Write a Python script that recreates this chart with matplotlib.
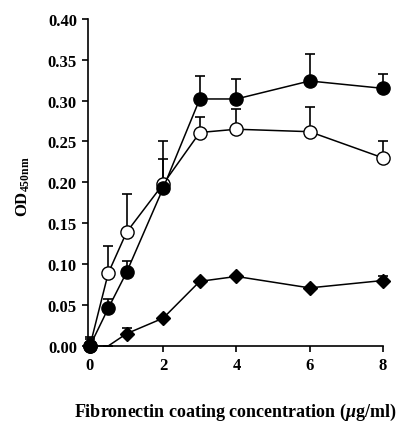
import matplotlib
matplotlib.use("Agg")
import matplotlib.pyplot as plt
import numpy as np

conc = [0, 0.5, 1, 2, 3, 4, 6, 8]

filled_vals = [0.000, 0.046, 0.090, 0.193, 0.302, 0.302, 0.324, 0.315]
filled_top  = [0.011, 0.058, 0.104, 0.228, 0.330, 0.327, 0.357, 0.333]

open_vals = [0.000, 0.089, 0.139, 0.198, 0.261, 0.265, 0.262, 0.230]
open_top  = [0.008, 0.122, 0.186, 0.250, 0.280, 0.290, 0.292, 0.250]

diam_vals = [0.000, 0.000, 0.015, 0.034, 0.079, 0.085, 0.071, 0.080]
diam_top  = [0.000, 0.000, 0.022, 0.034, 0.079, 0.085, 0.071, 0.085]

yticks = [0.00, 0.05, 0.10, 0.15, 0.20, 0.25, 0.30, 0.35, 0.40]
xticks = [0, 2, 4, 6, 8]

plt.rcParams['font.family'] = ['Liberation Serif', 'DejaVu Serif']
plt.rcParams['font.weight'] = 'bold'
plt.rcParams['mathtext.fontset'] = 'custom'
plt.rcParams['mathtext.rm'] = 'Liberation Serif:bold'
plt.rcParams['mathtext.it'] = 'Liberation Serif:italic:bold'
plt.rcParams['mathtext.bf'] = 'Liberation Serif:bold'

fig = plt.figure(figsize=(4.06, 4.31), dpi=100)
ax = fig.add_axes([0.217, 0.195, 0.726, 0.759])

def series(vals, top, marker, face, ms, skip=None):
    v = np.array(vals); t = np.array(top)
    up = t - v
    ax.errorbar(conc, v, yerr=[np.zeros_like(up), up], fmt='none', ecolor='black',
                elinewidth=1.2, capsize=3.5, capthick=1.2, zorder=2, clip_on=False)
    idx = [i for i in range(len(conc)) if skip is None or i not in skip]
    ax.plot(conc, v, color='black', lw=1.1, marker=marker, markersize=ms,
            markerfacecolor=face, markeredgecolor='black', markeredgewidth=1.0,
            markevery=idx, zorder=3, clip_on=False)

series(diam_vals, diam_top, 'D', 'black', 7.5, skip=[1])
series(open_vals, open_top, 'o', 'white', 9.5)
series(filled_vals, filled_top, 'o', 'black', 9.5)

ax.set_xlim(-0.05, 8)
ax.set_ylim(0, 0.40)
ax.set_xticks(xticks)
ax.set_xticklabels([str(x) for x in xticks])
ax.set_yticks(yticks)
ax.set_yticklabels([f"{y:.2f}" for y in yticks])
ax.spines['top'].set_visible(False)
ax.spines['right'].set_visible(False)
for s in ['left', 'bottom']:
    ax.spines[s].set_linewidth(1.2)
ax.tick_params(direction='out', length=4, width=1.2, labelsize=12, pad=4)
for lab in ax.get_xticklabels() + ax.get_yticklabels():
    lab.set_fontweight('bold')

ax.set_xlabel(r"Fibronectin coating concentration ($\mathit{\mu}$g/ml)",
              fontsize=13, fontweight='bold', labelpad=20)
ax.set_ylabel(r"OD$_{\mathrm{450nm}}$", fontsize=12, fontweight='bold', labelpad=14)
ax.yaxis.set_label_coords(-0.19, 0.49)

fig.savefig("out.png", dpi=100)
